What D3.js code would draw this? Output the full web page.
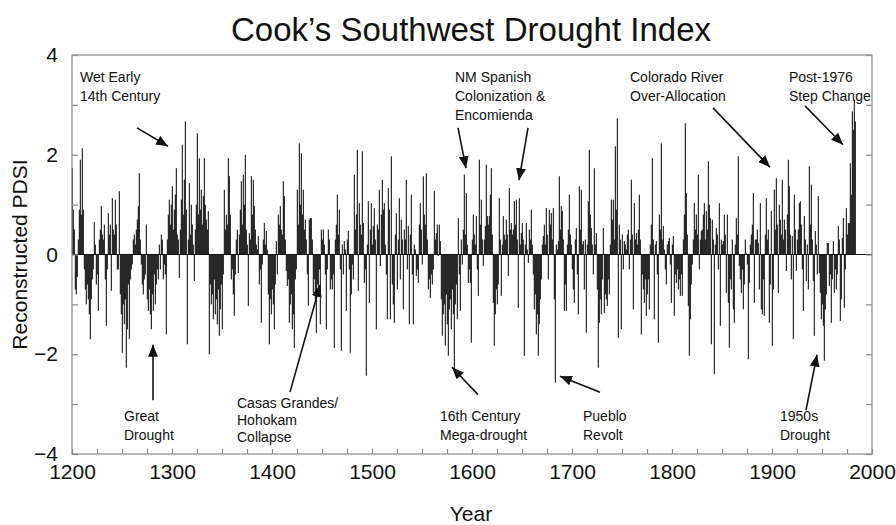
<!DOCTYPE html>
<html>
<head>
<meta charset="utf-8">
<script src="https://cdn.jsdelivr.net/npm/d3@7"></script>
<style>
  html, body { margin: 0; padding: 0; background: #fff; }
  svg { display: block; }
  text { font-family: "Liberation Sans", Arial, Helvetica, sans-serif; fill: #111; }
</style>
</head>
<body>
<svg id="chart" width="896" height="525"></svg>
<script>
// ---------------- DATA ----------------
const startYear = 1200;
// Reconstructed PDSI, one value per year from 1200
const pdsi = [
  1.73, 0.9, 0.5, -0.7, -0.8, -0.45, 0.3, 0.9,
  1.9, 0.8, 2.13, 0.9, -0.3, -0.7, -1.0, -0.6, -0.9, -1.2,
  -1.7, -0.9, -0.5, -0.3, 0.65, 0.2, -0.6, -0.4, -1.13, 0.3,
  0.5, 0.97, 0.4, 0.3, 0.6, -0.5, -1.43, -0.3, 0.83, 0.4,
  0.6, -0.73, 1.13, 0.5, 0.4, 1.1, 0.6, -0.3, -0.3, 1.27,
  -0.8, -1.2, -1.97, -1.0, -1.4, -0.9, -2.27, -1.5, -0.6, -1.7,
  -0.5, -0.3, -0.2, 0.3, 0.4, 0.2, 0.5, 0.7, 0.97, 1.63,
  0.3, -0.2, -0.6, -0.8, -0.5, -0.4, 0.6, -0.9, -1.13, -0.7,
  -1.2, -1.5, -0.8, -1.13, -0.4, -1.0, -0.6, -0.3, -0.5, 0.2,
  -0.3, 0.4, 0.3, -0.5, -0.2, -0.4, -1.6, 0.3, 0.8, 1.1,
  0.6, 1.0, 1.37, 0.5, 0.9, 1.2, 1.73, 0.4, 0.3, -0.47,
  0.5, 1.1, 2.2, 0.8, 1.5, 2.67, 0.9, -1.8, 0.3, 1.43,
  0.4, 1.0, 0.6, 0.2, -0.53, 0.5, 1.0, 2.43, 0.8, 1.93,
  0.9, 1.3, 0.6, 1.17, 1.93, 1.0, 0.7, 0.5, 0.87, -2.0,
  -0.6, -1.0, -0.8, -1.3, -0.5, -1.2, -0.9, -1.4, -0.7, -1.63,
  -1.1, -0.6, -1.5, -0.4, 1.3, 0.5, 0.8, 0.6, 1.93, 1.57,
  0.8, -0.5, -0.3, -0.8, -1.23, -0.4, 0.3, 0.5, -0.37, 0.4,
  0.9, 1.47, 0.6, 1.6, 1.0, 2.0, 0.5, 0.2, -1.03, 0.43,
  0.3, 1.57, 0.8, 1.5, 0.97, 0.5, 0.2, 0.1, 0.37, -0.6,
  -0.3, -1.37, -0.2, 0.3, 0.63, 0.2, 0.47, 0.1, -0.8, -1.8,
  -0.9, -1.2, -0.7, -1.0, -1.5, -0.6, 0.27, -0.4, 0.8, 0.6,
  0.97, 0.5, 0.4, 1.47, 1.17, 0.3, -0.33, -0.63, -0.5, -1.37,
  -1.0, -0.8, -1.5, -1.2, -1.87, -0.5, -0.3, 1.3, 0.6, 2.23,
  1.0, 2.03, 0.8, 1.3, 0.5, 0.7, 0.3, -0.4, -1.03, 0.7,
  0.73, 0.73, 0.3, -0.77, -0.5, -0.9, -1.57, -0.6, -0.8, -0.3,
  -1.4, 0.5, 0.3, 0.5, 0.2, -0.4, -1.5, -0.3, 0.5, 0.3,
  -0.7, -0.5, -0.7, -0.4, -1.87, 0.3, 0.6, 1.2, 0.4, 0.9,
  -0.3, -1.93, 0.2, -0.4, 0.27, 0.1, -1.13, 0.3, 0.47, -0.3,
  -1.97, -0.8, -0.2, -0.5, 1.6, 0.5, 0.8, 2.1, -0.73, 1.03,
  0.6, 0.4, 2.07, 0.63, -0.57, -0.3, -2.43, 0.2, 1.07, -0.97,
  0.5, 1.03, 0.2, 0.57, 0.93, 0.3, -1.5, 0.6, 0.5, 1.3,
  -0.23, 0.8, 1.5, 0.9, 1.03, 0.2, -0.4, -1.3, 1.33, 0.9,
  -1.3, 1.97, -0.6, -1.0, -1.37, 0.4, 0.83, -0.7, 0.3, 1.13,
  -0.5, 0.7, 0.3, -1.1, 0.5, 0.3, 1.5, -0.3, 0.57, -1.4,
  0.4, 1.2, -0.4, -1.4, 0.2, 0.1, -0.43, -0.3, -0.57, 0.6,
  1.03, 0.5, -0.2, 1.57, 0.8, 0.6, 1.63, 0.3, -0.7, -0.5,
  -0.87, -0.4, -0.6, -0.3, 1.27, 0.3, 0.43, 0.6, -0.03, 0.6,
  0.27, -0.9, -1.63, -1.2, -1.0, -1.83, -0.8, -1.4, -2.03, -1.1,
  -0.9, -1.5, -0.7, -1.2, -2.3, -1.0, -0.6, -1.3, 0.73, -0.4,
  -1.13, 0.3, -0.2, 0.5, 1.6, 0.4, 1.23, 0.2, -0.57, -0.3,
  -0.57, -1.77, 0.3, 0.8, 0.4, 0.2, 0.77, -0.3, -0.83, 1.9,
  0.6, 1.1, 0.3, -0.23, 0.3, 0.57, 1.8, 0.77, 0.6, 0.77,
  1.2, 1.73, 0.4, -0.97, -1.83, -1.2, -0.7, -1.0, -0.6, 1.13,
  0.3, -0.83, 0.2, 0.77, 0.4, 0.3, 0.7, 0.4, -0.43, 1.33,
  0.5, 0.63, 0.4, 0.5, 1.07, 0.6, 1.1, 0.3, -1.07, 1.13,
  0.2, 0.43, 0.63, 0.3, -2.03, 0.2, 0.63, 0.1, -0.17, 0.5,
  0.3, 0.9, 0.2, -0.4, -1.1, -0.8, -1.6, -1.2, -2.03, -1.4,
  -0.9, -0.5, 0.2, 0.37, 0.6, 0.2, 0.93, 0.4, -0.5, 0.9,
  0.6, 0.83, 0.3, 0.93, -0.9, -2.57, 0.2, 0.1, 0.27, 1.57,
  0.5, 0.97, 0.87, 0.3, -1.13, -0.6, -1.13, 0.2, 0.5, 1.2,
  0.4, 0.2, -0.3, -0.7, -0.97, 0.3, 0.53, -0.4, -1.2, 1.37,
  0.5, 1.3, 0.2, 0.27, -0.7, 0.3, -1.57, 0.2, 1.07, 2.1,
  0.8, 0.53, 0.2, -0.4, 1.73, 0.2, 0.43, -0.7, -2.27, -1.37,
  -0.9, -1.2, -0.5, 0.53, -1.17, -0.8, -0.9, -1.03, -0.5, -0.8,
  0.2, 1.1, 0.7, 1.1, 0.3, 2.17, 0.9, 2.73, -1.67, 0.6,
  0.3, -1.5, 0.4, -0.3, 0.27, 0.2, 0.1, 0.4, 0.5, -0.3,
  0.3, 1.5, 0.4, -1.1, 1.03, 0.3, 0.43, 0.2, 0.5, 1.2,
  0.3, -1.6, -0.4, -0.7, -0.97, -0.5, -1.23, -0.8, -0.5, -1.1,
  0.2, 0.6, 1.93, 0.3, -1.3, 0.2, 0.27, -0.4, -1.77, 0.8,
  0.5, 2.23, 0.3, 0.57, 0.1, -0.3, -0.6, 0.2, 0.27, 0.33,
  -0.2, -0.97, 0.2, 0.37, -1.23, -0.4, -0.57, -0.3, -0.7, -0.5,
  -0.83, -0.4, -0.83, 0.3, 0.8, 2.63, 1.23, 0.4, -1.03, -2.03,
  -1.3, -0.6, -0.2, 0.3, 1.03, 0.5, 0.8, 0.4, 1.6, -0.3,
  0.3, 0.47, 0.5, 0.8, 1.03, 0.3, 0.87, 0.5, 1.87, 1.0,
  0.73, -1.8, 0.7, 0.3, -2.4, 0.2, 0.53, 0.4, -0.3, 1.03,
  -1.43, 0.3, 0.2, 0.27, 0.8, 0.4, -0.77, 0.8, -0.97, -1.87,
  -0.5, -0.7, 0.3, -1.1, -1.37, 0.2, 0.73, 0.4, 1.97, -0.23,
  -0.5, -0.77, -0.3, -1.1, -0.6, 0.3, 0.03, -0.2, -2.1, -0.57,
  0.2, 0.4, 0.6, 1.23, -0.97, 0.3, 0.3, 0.5, 0.23, -0.7,
  1.03, -1.1, -1.2, -0.5, -1.23, 0.4, 1.13, 0.3, 0.5, -1.37,
  -0.6, 0.87, -1.83, -0.7, 1.3, 0.5, 1.53, 0.6, -0.77, 1.0,
  0.7, 0.4, 1.5, 0.3, 0.7, 0.5, -0.33, 0.8, 1.9, 1.37,
  0.4, -0.5, 0.37, -1.7, 1.2, 0.5, -0.33, 0.3, 0.5, 1.03,
  1.07, 0.6, -0.3, -1.13, 0.77, 0.3, -0.53, 0.2, -0.7, 1.77,
  0.6, 1.4, 0.3, -0.53, -1.63, 0.47, 0.2, -0.4, 1.17, -0.37,
  -0.77, -1.3, -1.0, -1.43, -2.13, -1.1, -0.8, 0.23, 0.23, -0.63,
  -0.4, -1.37, -0.5, 0.27, -0.77, -0.3, -0.7, -0.4, 0.57, 0.3,
  -1.33, -0.9, 0.33, 0.73, -1.07, -0.3, 0.93, 0.4, 0.63, 0.63,
  1.83, 1.2, 2.87, 2.5, 3.1, 2.67
];
const years = pdsi.map((_, i) => startYear + i);

const yearTickLabels = [1200, 1300, 1400, 1500, 1600, 1700, 1800, 1900, 2000];
const yearMinorTicks = d3.range(1200, 2001, 25);
const pdsiTickLabels = [-4, -2, 0, 2, 4];
const pdsiMinorTicks = d3.range(-4, 5, 1);

const titleText = "Cook\u2019s Southwest Drought Index";
const xTitle = "Year";
const yTitle = "Reconstructed PDSI";

// annotations in data units: text anchor [year, pdsi], arrows [[fromYear, fromPdsi],[toYear, toPdsi]]
const annotationLines = [
  ["Wet Early", "14th Century"],
  ["NM Spanish", "Colonization &", "Encomienda"],
  ["Colorado River", "Over-Allocation"],
  ["Post-1976", "Step Change"],
  ["Great", "Drought"],
  ["Casas Grandes/", "Hohokam", "Collapse"],
  ["16th Century", "Mega-drought"],
  ["Pueblo", "Revolt"],
  ["1950s", "Drought"]
];
const annotationAnchors = [
  [1208, 3.46], [1583, 3.46], [1758, 3.46], [1917, 3.46],
  [1252, -3.34], [1365, -3.08], [1568, -3.34], [1711, -3.34], [1908, -3.34]
];
const annotationArrows = [
  [[[1265, 2.54], [1296, 2.17]]],
  [[[1586, 2.54], [1594, 1.73]], [[1656, 2.54], [1647, 1.49]]],
  [[[1841, 2.94], [1898, 1.75]]],
  [[[1933, 2.98], [1971, 2.2]]],
  [[[1281, -2.92], [1281, -1.81]]],
  [[[1418, -2.76], [1448, -0.61]]],
  [[[1606, -2.81], [1580, -2.26]]],
  [[[1728, -2.76], [1688, -2.44]]],
  [[[1934, -3.12], [1945, -2.01]]]
];

// ---------------- CHART ----------------
const svg = d3.select("#chart");
const mLeft = 72, mRight = 872, mTop = 55, mBottom = 454;
const x = d3.scaleLinear().domain([1200, 2000]).range([mLeft, mRight]);
const y = d3.scaleLinear().domain([-4, 4]).range([mBottom, mTop]);
const frameColor = "#8a8a8a";

// bars
svg.append("g")
  .selectAll("rect")
  .data(pdsi)
  .join("rect")
  .attr("x", (d, i) => x(years[i]) - 0.2)
  .attr("width", 1.0)
  .attr("y", d => y(Math.max(0, d)))
  .attr("height", d => Math.abs(y(d) - y(0)))
  .attr("fill", "#000");

// zero line
svg.append("line")
  .attr("x1", x(1200)).attr("x2", x(2000))
  .attr("y1", y(0)).attr("y2", y(0))
  .attr("stroke", "#111").attr("stroke-width", 1);

// frame
svg.append("rect")
  .attr("x", mLeft).attr("y", mTop)
  .attr("width", mRight - mLeft).attr("height", mBottom - mTop)
  .attr("fill", "none").attr("stroke", frameColor).attr("stroke-width", 1.2);

function styleAxis(g) {
  g.select(".domain").remove();
  g.selectAll(".tick line").attr("stroke", frameColor).attr("stroke-width", 1.2);
  g.selectAll(".tick text").attr("font-size", 21).attr("fill", "#111")
    .attr("font-family", "'Liberation Sans', Arial, sans-serif");
}

// y axis (left) labels + ticks
svg.append("g")
  .attr("transform", `translate(${mLeft},0)`)
  .call(d3.axisLeft(y).tickValues(pdsiMinorTicks).tickSize(-6).tickPadding(14)
    .tickFormat(d => pdsiTickLabels.includes(d) ? d3.format("")(d) : ""))
  .call(styleAxis);

// y axis right ticks
svg.append("g")
  .attr("transform", `translate(${mRight},0)`)
  .call(d3.axisRight(y).tickValues(pdsiMinorTicks).tickSize(-6).tickFormat(""))
  .call(styleAxis);

// x axis bottom
svg.append("g")
  .attr("transform", `translate(0,${mBottom})`)
  .call(d3.axisBottom(x).tickValues(yearMinorTicks).tickSize(-5).tickPadding(10)
    .tickFormat(d => yearTickLabels.includes(d) ? String(d) : ""))
  .call(styleAxis);

// titles
svg.append("text")
  .attr("x", 471).attr("y", 41)
  .attr("text-anchor", "middle")
  .attr("font-size", 33)
  .text(titleText);

svg.append("text")
  .attr("x", 471).attr("y", 521)
  .attr("text-anchor", "middle")
  .attr("font-size", 21)
  .text(xTitle);

svg.append("text")
  .attr("transform", `translate(27,${y(0)}) rotate(-90)`)
  .attr("text-anchor", "middle")
  .attr("font-size", 21)
  .text(yTitle);

// arrow marker
svg.append("defs").append("marker")
  .attr("id", "arrowhead")
  .attr("viewBox", "0 0 12 10")
  .attr("refX", 12).attr("refY", 5)
  .attr("markerWidth", 12).attr("markerHeight", 10)
  .attr("markerUnits", "userSpaceOnUse")
  .attr("orient", "auto")
  .append("path")
  .attr("d", "M0,0 L12,5 L0,10 Z")
  .attr("fill", "#111");

// annotations
const ann = svg.append("g");
annotationLines.forEach((lines, i) => {
  const [ay, av] = annotationAnchors[i];
  const lh = lines.length === 3 && av < 0 ? 17 : 19;
  const t = ann.append("text")
    .attr("x", x(ay)).attr("y", y(av))
    .attr("font-size", 14);
  lines.forEach((ln, j) => {
    t.append("tspan").attr("x", x(ay)).attr("dy", j === 0 ? 0 : lh).text(ln);
  });
  annotationArrows[i].forEach(([from, to]) => {
    ann.append("line")
      .attr("x1", x(from[0])).attr("y1", y(from[1]))
      .attr("x2", x(to[0])).attr("y2", y(to[1]))
      .attr("stroke", "#111").attr("stroke-width", 1.6)
      .attr("marker-end", "url(#arrowhead)");
  });
});
</script>
</body>
</html>
